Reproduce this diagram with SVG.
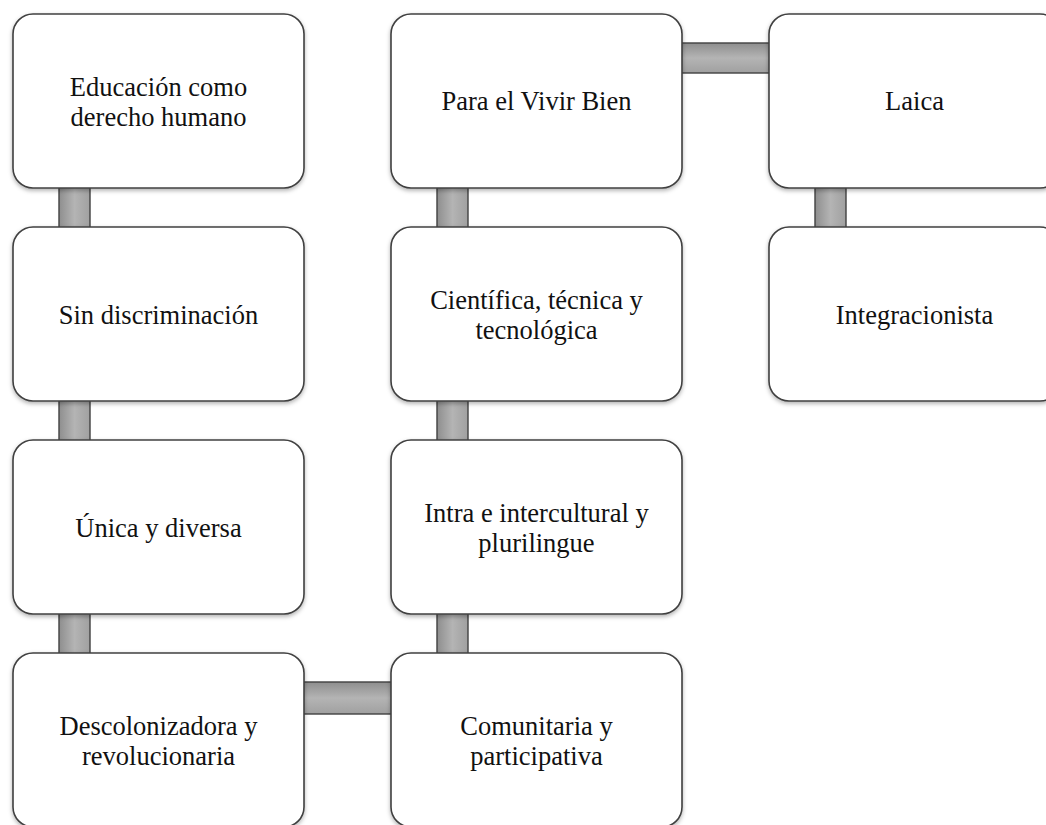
<svg xmlns="http://www.w3.org/2000/svg" width="1046" height="825" viewBox="0 0 1046 825">
<defs>
<linearGradient id="gv" x1="0" y1="0" x2="1" y2="0">
<stop offset="0" stop-color="#8e8e8e"/><stop offset="0.5" stop-color="#b4b4b4"/><stop offset="1" stop-color="#a0a0a0"/>
</linearGradient>
<linearGradient id="gh" x1="0" y1="0" x2="0" y2="1">
<stop offset="0" stop-color="#8e8e8e"/><stop offset="0.5" stop-color="#b4b4b4"/><stop offset="1" stop-color="#a0a0a0"/>
</linearGradient>
<filter id="sh" x="-10%" y="-10%" width="120%" height="120%">
<feDropShadow dx="0" dy="2" stdDeviation="2" flood-color="#000" flood-opacity="0.3"/>
</filter>
</defs>
<style>
.box{fill:#fff;stroke:#404040;stroke-width:1.6;filter:url(#sh)}
.cv{fill:url(#gv);stroke:#404040;stroke-width:1.4}
.ch{fill:url(#gh);stroke:#404040;stroke-width:1.4}
text{font-family:"Liberation Serif","Times New Roman",serif;font-size:26.5px;fill:#111;text-anchor:middle}
</style>
<rect width="1046" height="825" fill="#fff"/>
<g id="connectors">
<rect class="cv" x="59" y="186" width="31" height="43"/>
<rect class="cv" x="59" y="399" width="31" height="43"/>
<rect class="cv" x="59" y="612" width="31" height="43"/>
<rect class="ch" x="302" y="682" width="91" height="32"/>
<rect class="cv" x="437" y="186" width="31" height="43"/>
<rect class="cv" x="437" y="399" width="31" height="43"/>
<rect class="cv" x="437" y="612" width="31" height="43"/>
<rect class="ch" x="680" y="43" width="91" height="30"/>
<rect class="cv" x="815" y="186" width="31" height="43"/>
</g>
<g id="n1"><rect class="box" x="13" y="14" width="291" height="174" rx="20"/><text x="158.5" y="96">Educación como</text><text x="158.5" y="126">derecho humano</text></g>
<g id="n2"><rect class="box" x="13" y="227" width="291" height="174" rx="20"/><text x="158.5" y="324">Sin discriminación</text></g>
<g id="n3"><rect class="box" x="13" y="440" width="291" height="174" rx="20"/><text x="158.5" y="537">Única y diversa</text></g>
<g id="n4"><rect class="box" x="13" y="653" width="291" height="174" rx="20"/><text x="158.5" y="735">Descolonizadora y</text><text x="158.5" y="765">revolucionaria</text></g>
<g id="n5"><rect class="box" x="391" y="653" width="291" height="174" rx="20"/><text x="536.5" y="735">Comunitaria y</text><text x="536.5" y="765">participativa</text></g>
<g id="n6"><rect class="box" x="391" y="440" width="291" height="174" rx="20"/><text x="536.5" y="522">Intra e intercultural y</text><text x="536.5" y="552">plurilingue</text></g>
<g id="n7"><rect class="box" x="391" y="227" width="291" height="174" rx="20"/><text x="536.5" y="309">Científica, técnica y</text><text x="536.5" y="339">tecnológica</text></g>
<g id="n8"><rect class="box" x="391" y="14" width="291" height="174" rx="20"/><text x="536.5" y="110">Para el Vivir Bien</text></g>
<g id="n9"><rect class="box" x="769" y="14" width="291" height="174" rx="20"/><text x="914.5" y="110">Laica</text></g>
<g id="n10"><rect class="box" x="769" y="227" width="291" height="174" rx="20"/><text x="914.5" y="324">Integracionista</text></g>
</svg>
